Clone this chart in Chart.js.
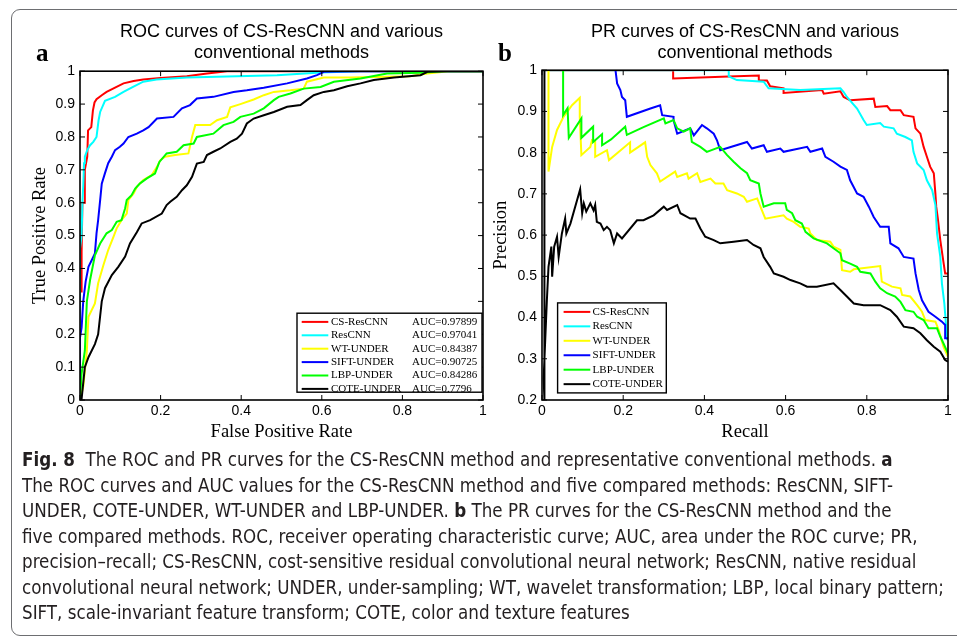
<!DOCTYPE html>
<html>
<head>
<meta charset="utf-8">
<script src="https://cdn.jsdelivr.net/npm/chart.js"></script>
<style>
  html, body { margin: 0; padding: 0; background: #fff; }
  body { width: 957px; height: 637px; position: relative; overflow: hidden; }
  #frame { position: absolute; left: 11px; top: 9px; width: 970px; height: 627px; box-sizing: border-box;
           border: 1px solid #6d6e71; border-radius: 9px; }
  .box { position: absolute; top: 12px; height: 440px; }
  #caption { position: absolute; left: 22px; top: 447px; transform-origin: 0 0; color: #231f20;
             font-family: "Liberation Sans Narrow", "DejaVu Sans Condensed", "Liberation Sans", sans-serif;
             font-size: 19px; line-height: 25.5px; white-space: nowrap; }
  #caption b { font-weight: bold; }
</style>
</head>
<body>
<div id="frame"></div>
<div class="box" style="left:14px;width:478px"><canvas id="rocChart"></canvas></div>
<div class="box" style="left:478px;width:479px"><canvas id="prChart"></canvas></div>
<div id="caption">
  <div><span><b>Fig. 8</b>&nbsp; The ROC and PR curves for the CS-ResCNN method and representative conventional methods. <b>a</b></span></div>
  <div><span>The ROC curves and AUC values for the CS-ResCNN method and five compared methods: ResCNN, SIFT-</span></div>
  <div><span>UNDER, COTE-UNDER, WT-UNDER and LBP-UNDER. <b>b</b> The PR curves for the CS-ResCNN method and the</span></div>
  <div><span>five compared methods. ROC, receiver operating characteristic curve; AUC, area under the ROC curve; PR,</span></div>
  <div><span>precision–recall; CS-ResCNN, cost-sensitive residual convolutional neural network; ResCNN, native residual</span></div>
  <div><span id="widest">convolutional neural network; UNDER, under-sampling; WT, wavelet transformation; LBP, local binary pattern;</span></div>
  <div><span>SIFT, scale-invariant feature transform; COTE, color and texture features</span></div>
</div>

<script>
// series names, AUC values and ticks
const methodNames = ['CS-ResCNN', 'ResCNN', 'WT-UNDER', 'SIFT-UNDER', 'LBP-UNDER', 'COTE-UNDER'];
const aucValues = [0.97899, 0.97041, 0.84387, 0.90725, 0.84286, 0.7796];
const rateTicks = [0, 0.1, 0.2, 0.3, 0.4, 0.5, 0.6, 0.7, 0.8, 0.9, 1];
const fprTicks = [0, 0.2, 0.4, 0.6, 0.8, 1];
const precisionTicks = [0.2, 0.3, 0.4, 0.5, 0.6, 0.7, 0.8, 0.9, 1];
const recallTicks = [0, 0.2, 0.4, 0.6, 0.8, 1];

// ROC curves: [false positive rate, true positive rate]
const rocCsResCnn = [[0,0],[0,0.33],[0.003,0.33],[0.004,0.45],[0.006,0.6],[0.012,0.6],[0.012,0.7],[0.018,0.74],[0.02,0.82],[0.028,0.83],[0.032,0.88],[0.036,0.905],[0.041,0.915],[0.054,0.927],[0.066,0.937],[0.087,0.95],[0.108,0.963],[0.133,0.97],[0.157,0.975],[0.2,0.979],[0.265,0.985],[0.315,0.993],[0.365,1],[1,1]];
const rocResCnn = [[0,0],[0,0.46],[0.004,0.5],[0.006,0.6],[0.008,0.65],[0.01,0.72],[0.012,0.74],[0.018,0.76],[0.025,0.775],[0.033,0.785],[0.041,0.8],[0.046,0.85],[0.05,0.876],[0.062,0.91],[0.087,0.922],[0.108,0.937],[0.128,0.95],[0.157,0.968],[0.19,0.975],[0.265,0.981],[0.489,0.988],[0.597,0.996],[0.696,1],[1,1]];
const rocWtUnder = [[0,0],[0.008,0.04],[0.017,0.15],[0.021,0.253],[0.037,0.294],[0.045,0.355],[0.058,0.41],[0.07,0.456],[0.083,0.496],[0.091,0.522],[0.103,0.547],[0.116,0.567],[0.12,0.608],[0.133,0.628],[0.141,0.648],[0.157,0.669],[0.178,0.684],[0.191,0.709],[0.199,0.729],[0.211,0.74],[0.236,0.745],[0.269,0.75],[0.278,0.8],[0.286,0.836],[0.323,0.836],[0.34,0.851],[0.365,0.861],[0.373,0.89],[0.398,0.9],[0.431,0.914],[0.456,0.927],[0.481,0.937],[0.522,0.942],[0.555,0.947],[0.563,0.968],[0.605,0.981],[0.671,0.981],[0.82,0.985],[0.862,0.993],[0.915,1],[1,1]];
const rocSiftUnder = [[0,0],[0,0.19],[0.004,0.22],[0.008,0.3],[0.014,0.36],[0.021,0.405],[0.029,0.425],[0.037,0.446],[0.041,0.507],[0.045,0.547],[0.05,0.608],[0.054,0.658],[0.062,0.69],[0.07,0.72],[0.079,0.74],[0.087,0.76],[0.099,0.77],[0.108,0.78],[0.12,0.8],[0.141,0.81],[0.157,0.82],[0.17,0.83],[0.191,0.856],[0.232,0.861],[0.253,0.887],[0.273,0.897],[0.29,0.917],[0.331,0.922],[0.381,0.937],[0.414,0.942],[0.456,0.95],[0.514,0.963],[0.563,0.978],[0.588,0.988],[0.605,0.998],[0.696,1],[1,1]];
const rocLbpUnder = [[0,0],[0.004,0.08],[0.012,0.15],[0.017,0.3],[0.025,0.365],[0.037,0.44],[0.05,0.476],[0.066,0.507],[0.079,0.517],[0.091,0.542],[0.103,0.547],[0.112,0.583],[0.116,0.608],[0.128,0.623],[0.137,0.643],[0.149,0.659],[0.166,0.674],[0.186,0.689],[0.197,0.724],[0.215,0.75],[0.24,0.755],[0.257,0.775],[0.282,0.78],[0.29,0.8],[0.331,0.81],[0.356,0.836],[0.381,0.846],[0.398,0.861],[0.431,0.871],[0.456,0.887],[0.481,0.912],[0.493,0.922],[0.522,0.932],[0.555,0.947],[0.597,0.952],[0.63,0.968],[0.696,0.978],[0.762,0.993],[0.845,0.995],[0.903,1],[1,1]];
const rocCoteUnder = [[0,0],[0.004,0.003],[0.012,0.1],[0.021,0.13],[0.037,0.17],[0.045,0.2],[0.054,0.3],[0.062,0.34],[0.079,0.38],[0.095,0.405],[0.112,0.436],[0.124,0.476],[0.141,0.51],[0.153,0.537],[0.174,0.547],[0.203,0.567],[0.215,0.593],[0.224,0.603],[0.24,0.618],[0.253,0.638],[0.265,0.653],[0.278,0.679],[0.29,0.719],[0.307,0.724],[0.315,0.745],[0.331,0.755],[0.348,0.765],[0.373,0.785],[0.389,0.795],[0.402,0.81],[0.414,0.841],[0.431,0.856],[0.456,0.866],[0.481,0.876],[0.514,0.892],[0.547,0.897],[0.563,0.912],[0.58,0.927],[0.605,0.937],[0.63,0.942],[0.663,0.954],[0.696,0.963],[0.729,0.973],[0.779,0.981],[0.845,0.988],[0.862,0.998],[0.911,1],[1,1]];

// PR curves: [recall, precision]
const prCsResCnn = [[0,1],[0.323,1],[0.323,0.98],[0.46,0.985],[0.534,0.987],[0.534,0.975],[0.554,0.975],[0.562,0.961],[0.595,0.956],[0.595,0.945],[0.69,0.952],[0.694,0.943],[0.735,0.949],[0.743,0.935],[0.759,0.927],[0.817,0.931],[0.821,0.911],[0.85,0.913],[0.858,0.903],[0.883,0.903],[0.891,0.891],[0.915,0.887],[0.92,0.859],[0.932,0.846],[0.94,0.814],[0.948,0.79],[0.956,0.766],[0.965,0.75],[0.969,0.7],[0.971,0.669],[0.975,0.64],[0.981,0.588],[0.988,0.54],[0.993,0.507],[1,0.507]];
const prResCnn = [[0,1],[0.46,1],[0.46,0.985],[0.48,0.976],[0.546,0.972],[0.558,0.956],[0.636,0.952],[0.735,0.956],[0.743,0.947],[0.751,0.935],[0.776,0.907],[0.792,0.879],[0.8,0.867],[0.833,0.872],[0.842,0.863],[0.866,0.859],[0.874,0.846],[0.895,0.838],[0.911,0.83],[0.915,0.802],[0.924,0.774],[0.94,0.758],[0.948,0.733],[0.961,0.709],[0.969,0.673],[0.973,0.604],[0.981,0.547],[0.985,0.483],[0.991,0.434],[0.996,0.37],[0.998,0.345]];
const prWtUnder = [[0.016,1],[0.016,0.754],[0.025,0.814],[0.037,0.855],[0.053,0.887],[0.074,0.915],[0.093,0.933],[0.093,0.887],[0.097,0.794],[0.119,0.814],[0.123,0.83],[0.131,0.826],[0.131,0.79],[0.16,0.806],[0.165,0.782],[0.217,0.825],[0.217,0.8],[0.254,0.825],[0.259,0.79],[0.267,0.77],[0.283,0.75],[0.291,0.73],[0.328,0.754],[0.333,0.741],[0.357,0.75],[0.361,0.737],[0.382,0.75],[0.39,0.729],[0.415,0.737],[0.427,0.725],[0.447,0.725],[0.456,0.709],[0.48,0.701],[0.497,0.693],[0.505,0.681],[0.53,0.689],[0.538,0.669],[0.55,0.64],[0.595,0.648],[0.603,0.64],[0.62,0.632],[0.636,0.62],[0.657,0.616],[0.661,0.604],[0.677,0.588],[0.71,0.584],[0.718,0.572],[0.735,0.564],[0.739,0.515],[0.759,0.511],[0.768,0.517],[0.833,0.525],[0.837,0.487],[0.862,0.475],[0.883,0.471],[0.887,0.455],[0.907,0.451],[0.924,0.43],[0.936,0.414],[0.944,0.394],[0.969,0.39],[0.977,0.37],[0.989,0.329],[1,0.305]];
const prSiftUnder = [[0.181,1],[0.185,0.968],[0.193,0.952],[0.197,0.935],[0.205,0.927],[0.209,0.887],[0.267,0.907],[0.291,0.915],[0.296,0.891],[0.324,0.887],[0.324,0.879],[0.333,0.846],[0.365,0.859],[0.374,0.842],[0.394,0.867],[0.406,0.859],[0.423,0.846],[0.431,0.83],[0.439,0.806],[0.505,0.826],[0.517,0.81],[0.546,0.818],[0.554,0.802],[0.587,0.81],[0.595,0.802],[0.653,0.814],[0.661,0.802],[0.69,0.81],[0.698,0.79],[0.718,0.778],[0.735,0.766],[0.751,0.758],[0.759,0.733],[0.776,0.701],[0.792,0.693],[0.805,0.669],[0.817,0.644],[0.833,0.62],[0.854,0.62],[0.858,0.58],[0.878,0.568],[0.891,0.547],[0.915,0.543],[0.92,0.507],[0.928,0.467],[0.936,0.442],[0.952,0.414],[0.969,0.402],[0.985,0.39],[0.993,0.382],[0.993,0.35],[1,0.35]];
const prLbpUnder = [[0.052,1],[0.052,0.891],[0.063,0.908],[0.066,0.836],[0.097,0.883],[0.097,0.836],[0.126,0.863],[0.126,0.826],[0.148,0.845],[0.148,0.818],[0.17,0.832],[0.205,0.863],[0.209,0.843],[0.25,0.862],[0.3,0.883],[0.304,0.871],[0.324,0.879],[0.333,0.859],[0.349,0.851],[0.365,0.859],[0.369,0.826],[0.39,0.814],[0.406,0.802],[0.439,0.814],[0.456,0.794],[0.472,0.778],[0.489,0.762],[0.505,0.75],[0.513,0.733],[0.534,0.725],[0.538,0.701],[0.546,0.669],[0.571,0.677],[0.599,0.677],[0.603,0.661],[0.616,0.653],[0.624,0.636],[0.64,0.628],[0.649,0.608],[0.669,0.592],[0.702,0.58],[0.718,0.568],[0.735,0.556],[0.739,0.539],[0.759,0.531],[0.776,0.523],[0.784,0.511],[0.809,0.507],[0.821,0.487],[0.833,0.471],[0.85,0.459],[0.87,0.451],[0.883,0.438],[0.895,0.418],[0.915,0.414],[0.924,0.402],[0.94,0.394],[0.952,0.374],[0.973,0.374],[0.981,0.354],[0.989,0.337],[1,0.313]];
const prCoteUnder = [[0.006,1],[0.006,0.2],[0.004,0.252],[0.012,0.442],[0.016,0.523],[0.023,0.572],[0.025,0.499],[0.03,0.572],[0.037,0.596],[0.041,0.547],[0.049,0.604],[0.057,0.64],[0.06,0.604],[0.07,0.628],[0.094,0.711],[0.099,0.653],[0.103,0.677],[0.109,0.657],[0.119,0.677],[0.127,0.66],[0.131,0.673],[0.135,0.632],[0.144,0.628],[0.152,0.612],[0.16,0.62],[0.168,0.612],[0.177,0.58],[0.185,0.604],[0.197,0.592],[0.234,0.636],[0.25,0.636],[0.275,0.648],[0.3,0.669],[0.308,0.661],[0.333,0.673],[0.341,0.653],[0.365,0.64],[0.378,0.64],[0.39,0.616],[0.402,0.596],[0.423,0.588],[0.439,0.58],[0.472,0.584],[0.505,0.588],[0.521,0.576],[0.538,0.568],[0.546,0.547],[0.562,0.523],[0.571,0.507],[0.595,0.499],[0.612,0.491],[0.636,0.483],[0.653,0.475],[0.677,0.475],[0.718,0.483],[0.735,0.467],[0.751,0.451],[0.768,0.434],[0.792,0.43],[0.833,0.43],[0.858,0.418],[0.874,0.402],[0.891,0.378],[0.915,0.374],[0.932,0.362],[0.948,0.345],[0.965,0.329],[0.981,0.317],[0.993,0.297],[1,0.293]];

const methodColors = ['#ff0000', '#00ffff', '#ffff00', '#0000ff', '#00ff00', '#000000'];

// matlab-ish box with inward ticks, panel letter and boxed legend
const matlabBox = {
  id: 'matlabBox',
  afterDraw(chart, args, opts) {
    const {ctx, chartArea: a, scales} = chart;
    ctx.save();
    ctx.strokeStyle = '#000';
    ctx.lineWidth = 1;
    ctx.beginPath();
    scales.x.ticks.forEach(t => {
      const px = scales.x.getPixelForValue(t.value);
      ctx.moveTo(px, a.bottom); ctx.lineTo(px, a.bottom - 5);
      ctx.moveTo(px, a.top); ctx.lineTo(px, a.top + 5);
    });
    scales.y.ticks.forEach(t => {
      const py = scales.y.getPixelForValue(t.value);
      ctx.moveTo(a.left, py); ctx.lineTo(a.left + 5, py);
      ctx.moveTo(a.right, py); ctx.lineTo(a.right - 5, py);
    });
    ctx.stroke();
    ctx.lineWidth = 1.6;
    ctx.strokeRect(a.left, a.top, a.right - a.left, a.bottom - a.top);

    // panel letter
    ctx.fillStyle = '#000';
    ctx.font = 'bold 25px "Liberation Serif"';
    ctx.textBaseline = 'alphabetic';
    ctx.fillText(opts.letter, opts.letterX, opts.letterY);

    // legend
    const lg = opts.legend;
    const lx = a.left + lg.x, ly = a.top + lg.y;
    ctx.fillStyle = '#fff';
    ctx.fillRect(lx, ly, lg.w, lg.h);
    ctx.lineWidth = 1.4;
    ctx.strokeRect(lx, ly, lg.w, lg.h);
    ctx.font = '11px "Liberation Serif"';
    ctx.textBaseline = 'middle';
    chart.data.datasets.forEach((ds, i) => {
      const y = ly + lg.first + i * lg.step;
      ctx.strokeStyle = ds.borderColor;
      ctx.lineWidth = 2;
      ctx.beginPath();
      ctx.moveTo(lx + lg.l0, y); ctx.lineTo(lx + lg.l1, y);
      ctx.stroke();
      ctx.fillStyle = '#000';
      ctx.fillText(ds.label, lx + lg.tx, y);
      if (lg.auc) ctx.fillText('AUC=' + lg.auc[i], lx + lg.ax, y);
    });
    ctx.restore();
  }
};

function makeSets(series) {
  return series.map((pts, i) => ({
    label: methodNames[i],
    data: pts,
    showLine: true,
    borderColor: methodColors[i],
    backgroundColor: methodColors[i],
    borderWidth: 2,
    pointRadius: 0,
    tension: 0,
    fill: false,
    order: series.length - i
  }));
}

function makeChart(id, series, cfg) {
  const tickFont = {family: 'Liberation Sans', size: 14};
  const axisFont = {family: 'Liberation Serif', size: 18.5, lineHeight: 1.2};
  return new Chart(document.getElementById(id), {
    type: 'scatter',
    data: {datasets: makeSets(series)},
    options: {
      responsive: true,
      maintainAspectRatio: false,
      animation: false,
      layout: {padding: {left: 0, right: cfg.padRight, top: 0, bottom: 0}},
      plugins: {
        legend: {display: false},
        tooltip: {enabled: false},
        title: {
          display: true,
          text: cfg.title,
          fullSize: false,
          color: '#000',
          font: {family: 'Liberation Sans', size: 18, weight: 'normal', lineHeight: 1.2},
          padding: {top: 9, bottom: cfg.titleBottom}
        },
        matlabBox: cfg.box
      },
      scales: {
        x: {
          type: 'linear', min: 0, max: 1,
          afterBuildTicks: s => { s.ticks = cfg.xTicks.map(v => ({value: v})); },
          afterFit: s => { s.height = 52; },
          grid: {display: false, drawTicks: false},
          border: {display: false},
          ticks: {color: '#000', font: tickFont, padding: 3, maxRotation: 0, callback: v => String(v)},
          title: {display: true, text: cfg.xTitle, color: '#000', font: axisFont, padding: {top: 0, bottom: 9}}
        },
        y: {
          type: 'linear', min: cfg.yMin, max: 1,
          afterBuildTicks: s => { s.ticks = cfg.yTicks.map(v => ({value: v})); },
          afterFit: s => { s.width = cfg.yWidth; },
          grid: {display: false, drawTicks: false},
          border: {display: false},
          ticks: {color: '#000', font: tickFont, padding: 5, callback: v => String(v)},
          title: {display: true, text: cfg.yTitle, color: '#000', font: axisFont, padding: {top: cfg.yTitlePad, bottom: 0}}
        }
      }
    },
    plugins: [matlabBox]
  });
}

makeChart('rocChart',
  [rocCsResCnn, rocResCnn, rocWtUnder, rocSiftUnder, rocLbpUnder, rocCoteUnder],
  {
    title: ['ROC curves of CS-ResCNN and various', 'conventional methods'],
    titleBottom: 7, padRight: 9, yWidth: 66, yTitlePad: 15, yMin: 0,
    xTicks: fprTicks, yTicks: rateTicks,
    xTitle: 'False Positive Rate', yTitle: 'True Positive Rate',
    box: {letter: 'a', letterX: 22, letterY: 49,
          legend: {x: 217, y: 242, w: 185, h: 79, first: 8.7, step: 13.4, l0: 4.7, l1: 31.3, tx: 34, ax: 115, auc: aucValues}}
  });

makeChart('prChart',
  [prCsResCnn, prResCnn, prWtUnder, prSiftUnder, prLbpUnder, prCoteUnder],
  {
    title: ['PR curves of CS-ResCNN and various', 'conventional methods'],
    titleBottom: 6, padRight: 9, yWidth: 64, yTitlePad: 12, yMin: 0.2,
    xTicks: recallTicks, yTicks: precisionTicks,
    xTitle: 'Recall', yTitle: 'Precision',
    box: {letter: 'b', letterX: 20, letterY: 49,
          legend: {x: 15.6, y: 232.7, w: 108.7, h: 90, first: 9, step: 14.45, l0: 6, l1: 32.7, tx: 35, auc: null}}
  });

// fit the caption block to the printed column width
document.fonts.ready.then(() => {
  const w = document.getElementById('widest').getBoundingClientRect().width;
  document.getElementById('caption').style.transform = 'scaleX(' + (922 / w) + ')';
});
</script>
</body>
</html>
